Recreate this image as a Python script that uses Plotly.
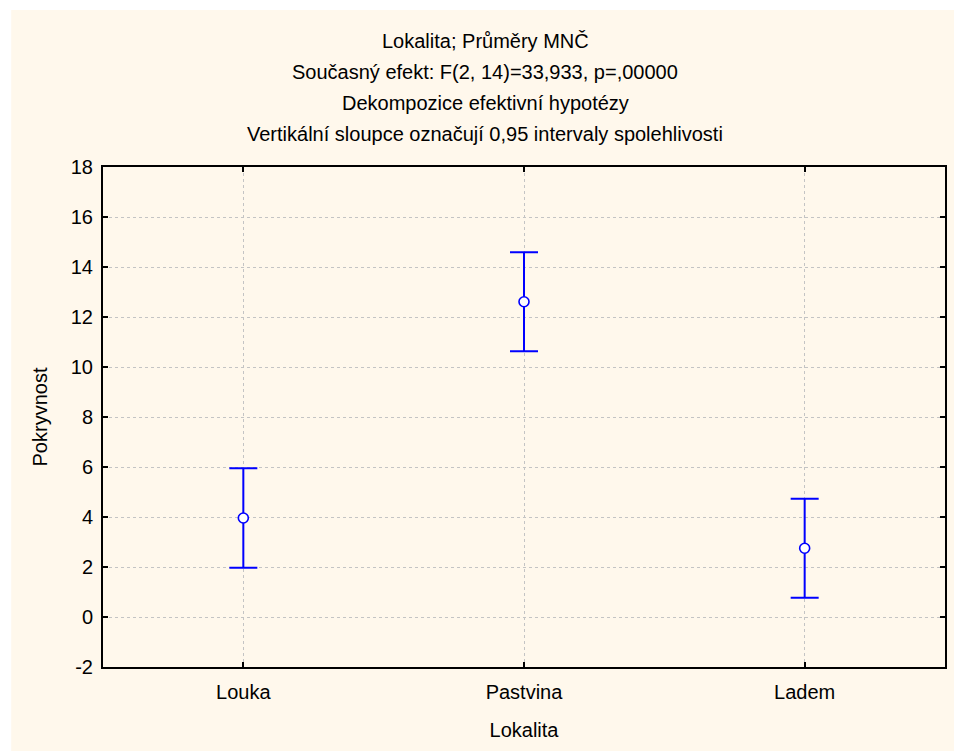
import plotly.graph_objects as go

categories = ["Louka", "Pastvina", "Ladem"]
means = [3.96, 12.61, 2.75]
ci_half = [1.99, 1.98, 1.98]
y_ticks = [-2, 0, 2, 4, 6, 8, 10, 12, 14, 16, 18]
y_tick_labels = ["-2", "0", "2", "4", "6", "8", "10", "12", "14", "16", "18"]
title_lines = [
    "Lokalita; Průměry MNČ",
    "Současný efekt: F(2, 14)=33,933, p=,00000",
    "Dekompozice efektivní hypotézy",
    "Vertikální sloupce označují 0,95 intervaly spolehlivosti",
]

W, H = 956, 751
L, R, T, B = 103, 9, 167, 84
PW, PH = W - L - R, H - T - B
FONT = "Liberation Sans, Arial, sans-serif"
FS = 20
CREAM = "#FFF8EC"

fig = go.Figure()
fig.add_trace(go.Scatter(
    x=categories, y=means, mode="markers",
    marker=dict(symbol="circle", size=10, color="white",
                line=dict(color="#0000FF", width=1.6)),
    error_y=dict(type="data", array=ci_half, visible=True,
                 color="#0000FF", thickness=2, width=14),
    showlegend=False,
))

annotations = []
for i, line in enumerate(title_lines):
    ypix = 41 + i * 31
    annotations.append(dict(
        text=line, xref="paper", yref="paper",
        x=(486 - L) / PW, y=(H - B - ypix) / PH,
        xanchor="center", yanchor="middle", showarrow=False,
        font=dict(family=FONT, size=FS, color="black"),
    ))

axis_common = dict(
    showline=True, linecolor="black", linewidth=2, mirror="ticks",
    ticks="inside", ticklen=5, tickwidth=2, tickcolor="black",
    showgrid=True, gridcolor="#c4c4c4", griddash="dot", gridwidth=1,
    zeroline=False,
    tickfont=dict(family=FONT, size=FS, color="black"),
)

fig.update_layout(
    width=W, height=H,
    margin=dict(l=L, r=R, t=T, b=B),
    paper_bgcolor="white",
    plot_bgcolor="white",
    annotations=annotations,
    shapes=[dict(type="rect", xref="paper", yref="paper", layer="below",
                 x0=-(L - 11) / PW, x1=(PW + R) / PW,
                 y0=-B / PH, y1=(PH + T - 10) / PH,
                 fillcolor=CREAM, line=dict(width=0))],
    xaxis=dict(
        **axis_common,
        range=[-0.5, 2.5],
        ticklabelstandoff=6,
        title=dict(text="Lokalita", standoff=21,
                   font=dict(family=FONT, size=FS, color="black")),
    ),
    yaxis=dict(
        **axis_common,
        range=[-2, 18], tickvals=y_ticks, ticktext=y_tick_labels,
        ticklabelstandoff=4,
        title=dict(text="Pokryvnost", standoff=18,
                   font=dict(family=FONT, size=FS, color="black")),
    ),
)

fig.write_html("out.html")
